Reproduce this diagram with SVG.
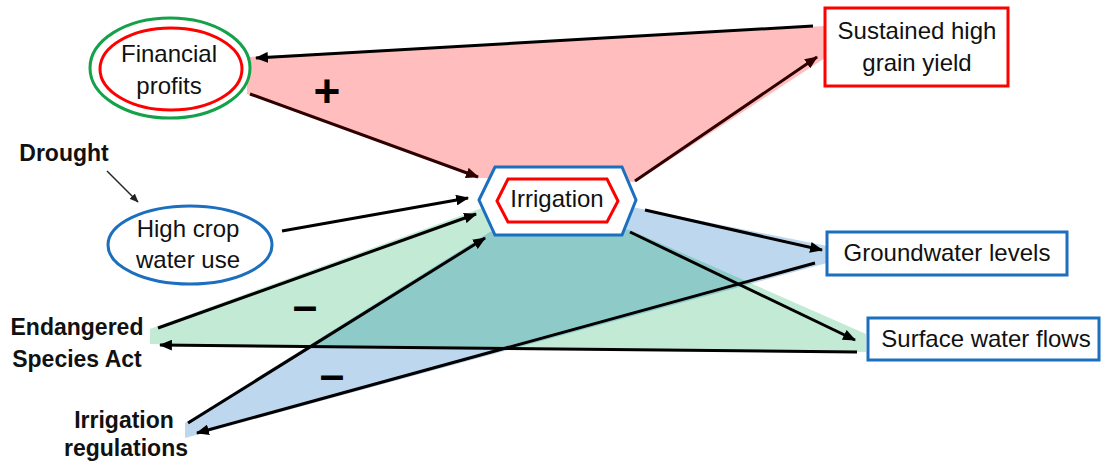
<svg xmlns="http://www.w3.org/2000/svg" width="1101" height="465" viewBox="0 0 1101 465">
<style>
.t{font-family:"Liberation Sans",Arial,sans-serif;font-size:24px;fill:#111;text-anchor:middle}
.b{font-family:"Liberation Sans",Arial,sans-serif;font-size:23px;font-weight:bold;fill:#111;text-anchor:middle}
.sign{font-family:"Liberation Sans",Arial,sans-serif;font-weight:bold;fill:#000;text-anchor:middle}
.a{stroke:#000;stroke-width:3;fill:none;marker-end:url(#ah)}
.ad{stroke:#2e0000;stroke-width:3;fill:none;marker-end:url(#ahd)}
.blue{fill:#fff;stroke:#1b6fbe;stroke-width:3}
.red{fill:#fff;stroke:#f00;stroke-width:3}
</style>
<defs>
<marker id="ah" viewBox="0 0 12 10" refX="11" refY="5" markerWidth="13" markerHeight="11" markerUnits="userSpaceOnUse" orient="auto"><path d="M0,0 L12,5 L0,10 z" fill="#000"/></marker>
<marker id="ahd" viewBox="0 0 12 10" refX="11" refY="5" markerWidth="13" markerHeight="11" markerUnits="userSpaceOnUse" orient="auto"><path d="M0,0 L12,5 L0,10 z" fill="#2e0000"/></marker>
<marker id="ahs" viewBox="0 0 12 10" refX="11" refY="5" markerWidth="9" markerHeight="8" markerUnits="userSpaceOnUse" orient="auto"><path d="M0,0 L12,5 L0,10 z" fill="#222"/></marker>
<clipPath id="gclip"><polygon points="150,329 482,208 630,230 866,334 866,352 150,344"/></clipPath>
</defs>
<rect width="1101" height="465" fill="#fff"/>
<g id="fills">
<polygon points="247,57 825,26 825,58 636,182 480,178 247,94" fill="#ffbdbd"/>
<polygon points="150,329 482,208 630,230 866,334 866,352 150,344" fill="#c2ead5"/>
<polygon points="185,423 490,232 632,207 827,246 827,263 185,438" fill="#bdd7ee"/>
<polygon points="185,423 490,232 632,207 827,246 827,263 185,438" fill="#8ecac8" clip-path="url(#gclip)"/>
</g>
<g id="connectors">
<line class="a" x1="813" y1="26" x2="256" y2="58"/>
<line class="ad" x1="250" y1="94" x2="478" y2="177"/>
<line class="ad" x1="635" y1="181" x2="817" y2="57"/>
<line class="a" x1="282" y1="231" x2="468" y2="198"/>
<line class="a" x1="158" y1="328" x2="476" y2="214"/>
<line class="a" x1="857" y1="352" x2="160" y2="345"/>
<line class="a" x1="630" y1="232" x2="855" y2="340"/>
<line class="a" x1="645" y1="210" x2="822" y2="250"/>
<line class="a" x1="815" y1="263" x2="197" y2="433"/>
<line class="a" x1="188" y1="423" x2="485" y2="238"/>
<line stroke="#222" stroke-width="1.5" marker-end="url(#ahs)" x1="107" y1="171" x2="138" y2="202"/>
</g>
<g id="signs">
<text class="sign" x="327" y="107" font-size="46">+</text>
<text class="sign" x="305" y="321" font-size="44">–</text>
<text class="sign" x="332" y="390" font-size="44">–</text>
</g>
<g id="financial-profits">
<ellipse cx="170" cy="68" rx="80" ry="50" fill="#fff" stroke="#14a14a" stroke-width="3"/>
<ellipse cx="171" cy="69" rx="71" ry="41" class="red"/>
<text class="t" x="169" y="62">Financial</text>
<text class="t" x="169" y="94">profits</text>
</g>
<g id="sustained-yield">
<rect x="825" y="8" width="183" height="78" class="red"/>
<text class="t" x="917" y="39">Sustained high</text>
<text class="t" x="917" y="71">grain yield</text>
</g>
<g id="irrigation">
<polygon points="479,200 495,167 622,167 636,200 622,235 495,235" class="blue"/>
<polygon points="497,201 508,179 607,179 618,201 607,222 508,222" class="red"/>
<text class="t" x="557" y="207">Irrigation</text>
</g>
<g id="drought">
<text class="b" x="64" y="161">Drought</text>
</g>
<g id="high-crop-water-use">
<ellipse cx="190" cy="245" rx="82" ry="39" class="blue"/>
<text class="t" x="188" y="237">High crop</text>
<text class="t" x="188" y="268">water use</text>
</g>
<g id="groundwater">
<rect x="827" y="232" width="240" height="43" class="blue"/>
<text class="t" x="947" y="261">Groundwater levels</text>
</g>
<g id="surface-water">
<rect x="868" y="318" width="231" height="42" class="blue"/>
<text class="t" x="986" y="347">Surface water flows</text>
</g>
<g id="esa">
<text class="b" x="77" y="335">Endangered</text>
<text class="b" x="77" y="367">Species Act</text>
</g>
<g id="irrigation-regulations">
<text class="b" x="124" y="428">Irrigation</text>
<text class="b" x="126" y="456">regulations</text>
</g>
</svg>
